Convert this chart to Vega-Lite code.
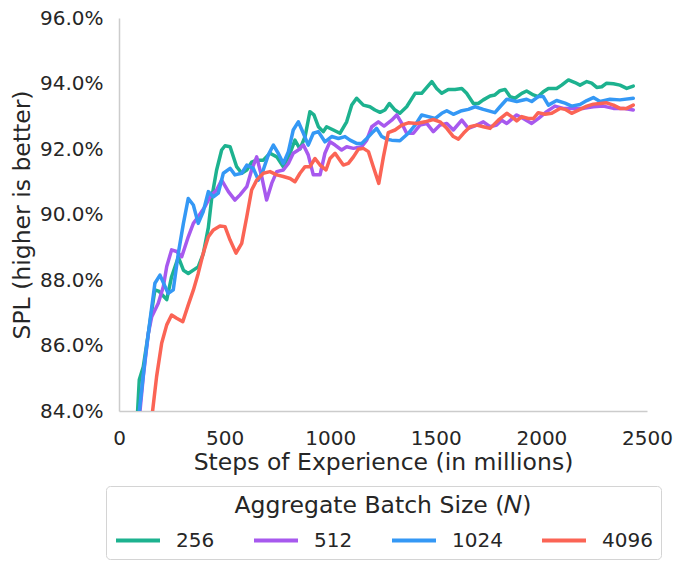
{
  "$schema": "https://vega.github.io/schema/vega-lite/v6.json",
  "width": 528,
  "height": 393,
  "autosize": {"type": "none"},
  "padding": {"left": 119, "top": 18, "right": 38, "bottom": 159},
  "background": "white",
  "config": {
    "font": "DejaVu Sans",
    "view": {"stroke": null},
    "axis": {"grid": false, "ticks": false, "domainColor": "#cccccc", "domainWidth": 1.5, "labelColor": "#262626", "titleColor": "#262626", "labelFontSize": 20, "titleFontSize": 23.5, "titleFontWeight": "normal"},
    "legend": {"labelColor": "#262626", "titleColor": "#262626", "layout": {"bottom": {"anchor": "middle"}}}
  },
  "data": {"values": [
    {"batch":"256","steps":84,"spl":83.5},{"batch":"256","steps":96,"spl":84.95},{"batch":"256","steps":115,"spl":85.35},{"batch":"256","steps":170,"spl":87.7},{"batch":"256","steps":190,"spl":87.65},{"batch":"256","steps":226,"spl":87.4},{"batch":"256","steps":249,"spl":88.1},{"batch":"256","steps":281,"spl":88.7},{"batch":"256","steps":305,"spl":88.3},{"batch":"256","steps":328,"spl":88.2},{"batch":"256","steps":375,"spl":88.4},{"batch":"256","steps":399,"spl":88.8},{"batch":"256","steps":423,"spl":89.6},{"batch":"256","steps":439,"spl":90.5},{"batch":"256","steps":462,"spl":91.35},{"batch":"256","steps":486,"spl":91.97},{"batch":"256","steps":502,"spl":92.1},{"batch":"256","steps":526,"spl":92.07},{"batch":"256","steps":557,"spl":91.46},{"batch":"256","steps":581,"spl":91.26},{"batch":"256","steps":605,"spl":91.36},{"batch":"256","steps":628,"spl":91.6},{"batch":"256","steps":652,"spl":91.66},{"batch":"256","steps":683,"spl":91.66},{"batch":"256","steps":715,"spl":91.87},{"batch":"256","steps":747,"spl":91.76},{"batch":"256","steps":778,"spl":91.46},{"batch":"256","steps":810,"spl":91.87},{"batch":"256","steps":833,"spl":92.27},{"batch":"256","steps":857,"spl":92.0},{"batch":"256","steps":881,"spl":92.38},{"batch":"256","steps":904,"spl":93.14},{"batch":"256","steps":923,"spl":93.04},{"batch":"256","steps":944,"spl":92.68},{"batch":"256","steps":967,"spl":92.53},{"batch":"256","steps":983,"spl":92.68},{"batch":"256","steps":1015,"spl":92.58},{"batch":"256","steps":1046,"spl":92.48},{"batch":"256","steps":1078,"spl":92.83},{"batch":"256","steps":1102,"spl":93.34},{"batch":"256","steps":1125,"spl":93.55},{"batch":"256","steps":1157,"spl":93.34},{"batch":"256","steps":1188,"spl":93.29},{"batch":"256","steps":1212,"spl":93.19},{"batch":"256","steps":1236,"spl":93.12},{"batch":"256","steps":1259,"spl":93.19},{"batch":"256","steps":1280,"spl":93.39},{"batch":"256","steps":1307,"spl":93.19},{"batch":"256","steps":1330,"spl":93.09},{"batch":"256","steps":1362,"spl":93.29},{"batch":"256","steps":1402,"spl":93.7},{"batch":"256","steps":1433,"spl":93.7},{"batch":"256","steps":1481,"spl":94.06},{"batch":"256","steps":1504,"spl":93.85},{"batch":"256","steps":1528,"spl":93.7},{"batch":"256","steps":1559,"spl":93.82},{"batch":"256","steps":1591,"spl":93.82},{"batch":"256","steps":1623,"spl":93.85},{"batch":"256","steps":1646,"spl":93.7},{"batch":"256","steps":1678,"spl":93.39},{"batch":"256","steps":1701,"spl":93.39},{"batch":"256","steps":1725,"spl":93.5},{"batch":"256","steps":1757,"spl":93.62},{"batch":"256","steps":1780,"spl":93.65},{"batch":"256","steps":1804,"spl":93.78},{"batch":"256","steps":1828,"spl":93.82},{"batch":"256","steps":1851,"spl":93.6},{"batch":"256","steps":1875,"spl":93.55},{"batch":"256","steps":1907,"spl":93.7},{"batch":"256","steps":1930,"spl":93.77},{"batch":"256","steps":1962,"spl":93.65},{"batch":"256","steps":1985,"spl":93.6},{"batch":"256","steps":2009,"spl":93.75},{"batch":"256","steps":2033,"spl":93.85},{"batch":"256","steps":2072,"spl":93.85},{"batch":"256","steps":2096,"spl":93.95},{"batch":"256","steps":2128,"spl":94.11},{"batch":"256","steps":2159,"spl":94.03},{"batch":"256","steps":2183,"spl":93.95},{"batch":"256","steps":2215,"spl":94.06},{"batch":"256","steps":2238,"spl":94.01},{"batch":"256","steps":2262,"spl":93.88},{"batch":"256","steps":2286,"spl":93.9},{"batch":"256","steps":2309,"spl":94.01},{"batch":"256","steps":2341,"spl":93.99},{"batch":"256","steps":2372,"spl":93.95},{"batch":"256","steps":2404,"spl":93.85},{"batch":"256","steps":2435,"spl":93.92},
    {"batch":"512","steps":92,"spl":83.5},{"batch":"512","steps":115,"spl":85.05},{"batch":"512","steps":139,"spl":86.37},{"batch":"512","steps":155,"spl":86.88},{"batch":"512","steps":186,"spl":87.29},{"batch":"512","steps":210,"spl":87.8},{"batch":"512","steps":226,"spl":88.41},{"batch":"512","steps":249,"spl":88.92},{"batch":"512","steps":273,"spl":88.87},{"batch":"512","steps":297,"spl":88.71},{"batch":"512","steps":328,"spl":89.32},{"batch":"512","steps":352,"spl":89.73},{"batch":"512","steps":375,"spl":89.93},{"batch":"512","steps":407,"spl":90.24},{"batch":"512","steps":431,"spl":90.54},{"batch":"512","steps":462,"spl":90.75},{"batch":"512","steps":486,"spl":91.05},{"batch":"512","steps":518,"spl":90.7},{"batch":"512","steps":549,"spl":90.44},{"batch":"512","steps":573,"spl":90.6},{"batch":"512","steps":605,"spl":90.85},{"batch":"512","steps":628,"spl":91.36},{"batch":"512","steps":652,"spl":91.76},{"batch":"512","steps":676,"spl":91.15},{"batch":"512","steps":699,"spl":90.44},{"batch":"512","steps":723,"spl":90.95},{"batch":"512","steps":747,"spl":91.31},{"batch":"512","steps":778,"spl":91.36},{"batch":"512","steps":802,"spl":91.56},{"batch":"512","steps":825,"spl":91.87},{"batch":"512","steps":849,"spl":91.97},{"batch":"512","steps":873,"spl":92.12},{"batch":"512","steps":896,"spl":91.82},{"batch":"512","steps":920,"spl":91.21},{"batch":"512","steps":952,"spl":91.21},{"batch":"512","steps":975,"spl":91.87},{"batch":"512","steps":999,"spl":92.22},{"batch":"512","steps":1023,"spl":92.12},{"batch":"512","steps":1054,"spl":91.97},{"batch":"512","steps":1078,"spl":92.07},{"batch":"512","steps":1110,"spl":92.02},{"batch":"512","steps":1149,"spl":92.07},{"batch":"512","steps":1173,"spl":92.27},{"batch":"512","steps":1197,"spl":92.68},{"batch":"512","steps":1228,"spl":92.83},{"batch":"512","steps":1255,"spl":92.7},{"batch":"512","steps":1291,"spl":92.88},{"batch":"512","steps":1315,"spl":93.04},{"batch":"512","steps":1339,"spl":92.78},{"batch":"512","steps":1362,"spl":92.48},{"batch":"512","steps":1394,"spl":92.48},{"batch":"512","steps":1425,"spl":92.73},{"batch":"512","steps":1457,"spl":92.78},{"batch":"512","steps":1488,"spl":92.53},{"batch":"512","steps":1520,"spl":92.73},{"batch":"512","steps":1552,"spl":92.78},{"batch":"512","steps":1583,"spl":92.58},{"batch":"512","steps":1623,"spl":92.88},{"batch":"512","steps":1654,"spl":92.63},{"batch":"512","steps":1694,"spl":92.73},{"batch":"512","steps":1725,"spl":92.83},{"batch":"512","steps":1757,"spl":92.68},{"batch":"512","steps":1788,"spl":92.73},{"batch":"512","steps":1812,"spl":92.88},{"batch":"512","steps":1836,"spl":92.78},{"batch":"512","steps":1883,"spl":93.04},{"batch":"512","steps":1914,"spl":92.93},{"batch":"512","steps":1954,"spl":92.78},{"batch":"512","steps":1985,"spl":92.93},{"batch":"512","steps":2025,"spl":93.14},{"batch":"512","steps":2064,"spl":93.31},{"batch":"512","steps":2104,"spl":93.24},{"batch":"512","steps":2151,"spl":93.24},{"batch":"512","steps":2199,"spl":93.24},{"batch":"512","steps":2246,"spl":93.29},{"batch":"512","steps":2293,"spl":93.31},{"batch":"512","steps":2341,"spl":93.24},{"batch":"512","steps":2388,"spl":93.24},{"batch":"512","steps":2435,"spl":93.19},
    {"batch":"1024","steps":86,"spl":83.4},{"batch":"1024","steps":123,"spl":85.56},{"batch":"1024","steps":147,"spl":86.78},{"batch":"1024","steps":170,"spl":87.9},{"batch":"1024","steps":194,"spl":88.15},{"batch":"1024","steps":218,"spl":87.8},{"batch":"1024","steps":233,"spl":87.59},{"batch":"1024","steps":257,"spl":87.7},{"batch":"1024","steps":281,"spl":88.82},{"batch":"1024","steps":305,"spl":89.73},{"batch":"1024","steps":328,"spl":90.49},{"batch":"1024","steps":352,"spl":90.29},{"batch":"1024","steps":375,"spl":89.73},{"batch":"1024","steps":399,"spl":90.09},{"batch":"1024","steps":423,"spl":90.7},{"batch":"1024","steps":447,"spl":90.54},{"batch":"1024","steps":470,"spl":90.65},{"batch":"1024","steps":494,"spl":91.26},{"batch":"1024","steps":526,"spl":91.41},{"batch":"1024","steps":549,"spl":91.21},{"batch":"1024","steps":581,"spl":91.26},{"batch":"1024","steps":605,"spl":91.51},{"batch":"1024","steps":636,"spl":91.41},{"batch":"1024","steps":660,"spl":91.05},{"batch":"1024","steps":683,"spl":91.36},{"batch":"1024","steps":707,"spl":91.82},{"batch":"1024","steps":731,"spl":92.12},{"batch":"1024","steps":754,"spl":91.87},{"batch":"1024","steps":778,"spl":91.56},{"batch":"1024","steps":802,"spl":91.92},{"batch":"1024","steps":825,"spl":92.58},{"batch":"1024","steps":849,"spl":92.83},{"batch":"1024","steps":873,"spl":92.48},{"batch":"1024","steps":896,"spl":92.12},{"batch":"1024","steps":920,"spl":92.48},{"batch":"1024","steps":944,"spl":92.53},{"batch":"1024","steps":975,"spl":92.22},{"batch":"1024","steps":1007,"spl":92.38},{"batch":"1024","steps":1039,"spl":92.32},{"batch":"1024","steps":1070,"spl":92.38},{"batch":"1024","steps":1094,"spl":92.27},{"batch":"1024","steps":1125,"spl":92.17},{"batch":"1024","steps":1149,"spl":92.17},{"batch":"1024","steps":1173,"spl":92.32},{"batch":"1024","steps":1204,"spl":92.53},{"batch":"1024","steps":1220,"spl":92.63},{"batch":"1024","steps":1244,"spl":92.38},{"batch":"1024","steps":1268,"spl":92.3},{"batch":"1024","steps":1291,"spl":92.27},{"batch":"1024","steps":1330,"spl":92.25},{"batch":"1024","steps":1370,"spl":92.48},{"batch":"1024","steps":1402,"spl":92.73},{"batch":"1024","steps":1433,"spl":93.04},{"batch":"1024","steps":1465,"spl":92.99},{"batch":"1024","steps":1496,"spl":92.93},{"batch":"1024","steps":1528,"spl":93.09},{"batch":"1024","steps":1552,"spl":93.17},{"batch":"1024","steps":1583,"spl":93.06},{"batch":"1024","steps":1623,"spl":93.17},{"batch":"1024","steps":1654,"spl":93.21},{"batch":"1024","steps":1686,"spl":93.29},{"batch":"1024","steps":1725,"spl":93.21},{"batch":"1024","steps":1780,"spl":93.11},{"batch":"1024","steps":1804,"spl":93.29},{"batch":"1024","steps":1836,"spl":93.52},{"batch":"1024","steps":1883,"spl":93.45},{"batch":"1024","steps":1930,"spl":93.52},{"batch":"1024","steps":1954,"spl":93.45},{"batch":"1024","steps":1985,"spl":93.6},{"batch":"1024","steps":2009,"spl":93.6},{"batch":"1024","steps":2033,"spl":93.34},{"batch":"1024","steps":2072,"spl":93.48},{"batch":"1024","steps":2112,"spl":93.4},{"batch":"1024","steps":2143,"spl":93.31},{"batch":"1024","steps":2183,"spl":93.36},{"batch":"1024","steps":2215,"spl":93.48},{"batch":"1024","steps":2246,"spl":93.57},{"batch":"1024","steps":2278,"spl":93.45},{"batch":"1024","steps":2325,"spl":93.52},{"batch":"1024","steps":2372,"spl":93.5},{"batch":"1024","steps":2435,"spl":93.55},
    {"batch":"4096","steps":150,"spl":83.5},{"batch":"4096","steps":178,"spl":85.05},{"batch":"4096","steps":202,"spl":86.07},{"batch":"4096","steps":226,"spl":86.63},{"batch":"4096","steps":249,"spl":86.93},{"batch":"4096","steps":273,"spl":86.83},{"batch":"4096","steps":302,"spl":86.73},{"batch":"4096","steps":328,"spl":87.24},{"batch":"4096","steps":352,"spl":87.69},{"batch":"4096","steps":375,"spl":88.2},{"batch":"4096","steps":399,"spl":88.82},{"batch":"4096","steps":423,"spl":89.32},{"batch":"4096","steps":447,"spl":89.53},{"batch":"4096","steps":478,"spl":89.65},{"batch":"4096","steps":502,"spl":89.63},{"batch":"4096","steps":526,"spl":89.22},{"batch":"4096","steps":554,"spl":88.82},{"batch":"4096","steps":581,"spl":89.12},{"batch":"4096","steps":605,"spl":89.93},{"batch":"4096","steps":628,"spl":90.75},{"batch":"4096","steps":652,"spl":91.05},{"batch":"4096","steps":683,"spl":91.26},{"batch":"4096","steps":715,"spl":91.31},{"batch":"4096","steps":747,"spl":91.21},{"batch":"4096","steps":778,"spl":91.16},{"batch":"4096","steps":810,"spl":91.1},{"batch":"4096","steps":833,"spl":91.0},{"batch":"4096","steps":857,"spl":91.26},{"batch":"4096","steps":881,"spl":91.46},{"batch":"4096","steps":904,"spl":91.46},{"batch":"4096","steps":928,"spl":91.71},{"batch":"4096","steps":952,"spl":91.51},{"batch":"4096","steps":980,"spl":91.36},{"batch":"4096","steps":999,"spl":91.71},{"batch":"4096","steps":1023,"spl":91.87},{"batch":"4096","steps":1046,"spl":91.66},{"batch":"4096","steps":1062,"spl":91.51},{"batch":"4096","steps":1086,"spl":91.56},{"batch":"4096","steps":1110,"spl":91.76},{"batch":"4096","steps":1133,"spl":91.99},{"batch":"4096","steps":1157,"spl":92.02},{"batch":"4096","steps":1181,"spl":91.92},{"batch":"4096","steps":1204,"spl":91.46},{"batch":"4096","steps":1230,"spl":90.95},{"batch":"4096","steps":1252,"spl":91.76},{"batch":"4096","steps":1275,"spl":92.5},{"batch":"4096","steps":1307,"spl":92.58},{"batch":"4096","steps":1339,"spl":92.73},{"batch":"4096","steps":1370,"spl":92.8},{"batch":"4096","steps":1410,"spl":92.78},{"batch":"4096","steps":1449,"spl":92.83},{"batch":"4096","steps":1488,"spl":92.9},{"batch":"4096","steps":1520,"spl":92.83},{"batch":"4096","steps":1552,"spl":92.63},{"batch":"4096","steps":1583,"spl":92.38},{"batch":"4096","steps":1607,"spl":92.3},{"batch":"4096","steps":1631,"spl":92.48},{"batch":"4096","steps":1662,"spl":92.68},{"batch":"4096","steps":1694,"spl":92.73},{"batch":"4096","steps":1725,"spl":92.68},{"batch":"4096","steps":1757,"spl":92.63},{"batch":"4096","steps":1796,"spl":92.88},{"batch":"4096","steps":1836,"spl":93.09},{"batch":"4096","steps":1859,"spl":92.99},{"batch":"4096","steps":1883,"spl":92.86},{"batch":"4096","steps":1907,"spl":92.99},{"batch":"4096","steps":1938,"spl":92.93},{"batch":"4096","steps":1962,"spl":92.93},{"batch":"4096","steps":1985,"spl":93.11},{"batch":"4096","steps":2017,"spl":93.06},{"batch":"4096","steps":2049,"spl":93.09},{"batch":"4096","steps":2088,"spl":93.24},{"batch":"4096","steps":2112,"spl":93.21},{"batch":"4096","steps":2143,"spl":93.09},{"batch":"4096","steps":2183,"spl":93.21},{"batch":"4096","steps":2215,"spl":93.31},{"batch":"4096","steps":2246,"spl":93.37},{"batch":"4096","steps":2278,"spl":93.39},{"batch":"4096","steps":2309,"spl":93.41},{"batch":"4096","steps":2341,"spl":93.34},{"batch":"4096","steps":2372,"spl":93.24},{"batch":"4096","steps":2404,"spl":93.24},{"batch":"4096","steps":2435,"spl":93.34}
  ]},
  "mark": {"type": "line", "strokeWidth": 3.5, "clip": true, "strokeCap": "round", "strokeJoin": "round"},
  "encoding": {
    "x": {"field": "steps", "type": "quantitative", "scale": {"domain": [0, 2500], "nice": false}, "axis": {"values": [0, 500, 1000, 1500, 2000, 2500], "format": "d", "title": "Steps of Experience (in millions)", "labelPadding": 17, "titlePadding": 2, "labelFlush": false}},
    "y": {"field": "spl", "type": "quantitative", "scale": {"domain": [84, 96], "nice": false, "zero": false}, "axis": {"values": [84, 86, 88, 90, 92, 94, 96], "labelExpr": "format(datum.value, '.1f') + '%'", "title": "SPL (higher is better)", "labelPadding": 16, "titlePadding": 5}},
    "color": {"field": "batch", "type": "nominal", "scale": {"domain": ["256", "512", "1024", "4096"], "range": ["#1db28f", "#a759ee", "#3498f5", "#fb6455"]},
      "legend": {"orient": "bottom", "direction": "horizontal", "columns": 4, "title": "Aggregate Batch Size (𝑁)", "titleFontSize": 23.5, "titleFontWeight": "normal", "titleAnchor": "middle", "titleLimit": 0, "titlePadding": 10, "labelFontSize": 20, "symbolType": "M-1,0H3", "symbolSize": 484, "symbolStrokeWidth": 4, "labelOffset": 36, "columnPadding": 31, "padding": 8, "strokeColor": "#d4d4d4", "cornerRadius": 4, "offset": 12}}
  }
}
